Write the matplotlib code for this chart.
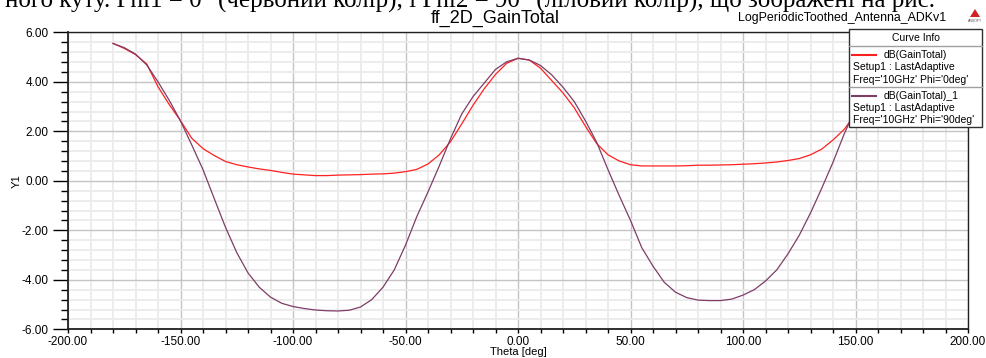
import matplotlib
matplotlib.use("Agg")
import matplotlib.pyplot as plt
from matplotlib.patches import Rectangle, Polygon
from matplotlib.lines import Line2D
from matplotlib.ticker import MultipleLocator, FormatStrFormatter

plt.rcParams['font.family'] = ['Liberation Sans', 'DejaVu Sans']

# angles and gain curves
theta = [-180, -175, -170, -165, -160, -155, -150, -145, -140, -135, -130, -125,
         -120, -115, -110, -105, -100, -95, -90, -85, -80, -75, -70, -65, -60,
         -55, -50, -45, -40, -35, -30, -25, -20, -15, -10, -5, 0, 5, 10, 15, 20,
         25, 30, 35, 40, 45, 50, 55, 60, 65, 70, 75, 80, 85, 90, 95, 100, 105,
         110, 115, 120, 125, 130, 135, 140, 145, 150, 155, 160, 165, 170, 175, 180]
gain_phi0 = [5.55, 5.35, 5.10, 4.72, 3.80, 3.08, 2.43, 1.72, 1.30, 1.02, 0.78, 0.65,
             0.56, 0.48, 0.42, 0.34, 0.27, 0.24, 0.21, 0.21, 0.23, 0.24, 0.25, 0.27, 0.28,
             0.31, 0.37, 0.46, 0.68, 1.05, 1.58, 2.30, 3.05, 3.72, 4.30, 4.75, 4.95, 4.88,
             4.55, 4.05, 3.55, 2.95, 2.20, 1.50, 1.05, 0.80, 0.65, 0.60, 0.60, 0.60, 0.60,
             0.61, 0.63, 0.63, 0.64, 0.65, 0.67, 0.69, 0.72, 0.76, 0.82, 0.90, 1.05, 1.28,
             1.65, 2.08, 2.70, 3.40, 4.05, 4.65, 5.10, 5.40, 5.55]
gain_phi90 = [5.55, 5.38, 5.12, 4.68, 4.00, 3.25, 2.42, 1.45, 0.45, -0.72, -1.88, -2.90,
              -3.72, -4.30, -4.70, -4.95, -5.08, -5.16, -5.22, -5.25, -5.26, -5.23, -5.10,
              -4.80, -4.30, -3.60, -2.60, -1.45, -0.45, 0.60, 1.70, 2.70, 3.40, 3.95, 4.50,
              4.81, 4.95, 4.88, 4.66, 4.28, 3.78, 3.20, 2.42, 1.55, 0.45, -0.60, -1.60,
              -2.70, -3.45, -4.10, -4.50, -4.72, -4.82, -4.84, -4.84, -4.78, -4.62, -4.40,
              -4.05, -3.60, -2.95, -2.20, -1.30, -0.30, 0.75, 1.90, 2.90, 3.70, 4.30, 4.80,
              5.15, 5.40, 5.55]

W, H = 986, 358
def fx(px):
    return px / W
def fy(py):
    return 1 - py / H

fig = plt.figure(figsize=(W / 100, H / 100), dpi=100)
ax = fig.add_axes([fx(68), fy(329.3), (968 - 68) / W, (329.3 - 32.3) / H])

red = '#ff2020'
purple = '#7d3d66'
ax.plot(theta, gain_phi0, color=red, lw=0.9, zorder=3)
ax.plot(theta, gain_phi90, color=purple, lw=0.9, zorder=3)

ax.set_xlim(-200, 200)
ax.set_ylim(-6, 6)
ax.xaxis.set_major_locator(MultipleLocator(50))
ax.xaxis.set_minor_locator(MultipleLocator(10))
ax.yaxis.set_major_locator(MultipleLocator(2))
ax.yaxis.set_minor_locator(MultipleLocator(0.4))
ax.xaxis.set_major_formatter(FormatStrFormatter('%.2f'))
ax.yaxis.set_major_formatter(FormatStrFormatter('%.2f'))

ax.grid(which='minor', color='#ebebeb', lw=1.3, zorder=0)
ax.grid(which='major', color='#c4c4c4', lw=1.0, zorder=0)
ax.set_axisbelow(True)

ax.tick_params(axis='y', which='major', direction='out', length=11, width=1,
               labelsize=8.5, pad=3)
ax.tick_params(axis='y', which='minor', direction='out', length=5, width=1)
ax.tick_params(axis='x', which='both', direction='out', length=3, width=1,
               labelsize=8.5, pad=2)
for s in ax.spines.values():
    s.set_color('#202020')
    s.set_linewidth(1.0)
ax.spines['left'].set_linewidth(1.3)
ax.spines['bottom'].set_linewidth(1.3)

fig.text(fx(518), fy(352), 'Theta [deg]', fontsize=8, ha='center', va='center')
fig.text(fx(16.5), fy(181), 'Y1', fontsize=8, rotation=90, ha='center', va='center')

# caption line cut off at the top of the picture
fig.text(fx(935), fy(7), 'ного куту. Phi1 = 0° (червоний колір), і Phi2 = 90° (ліловий колір), що зображені на рис.',
         family=['Liberation Serif', 'DejaVu Serif'], fontsize=18, ha='right', va='baseline')

fig.text(fx(495), fy(18), 'ff_2D_GainTotal', fontsize=13, ha='center', va='center')
fig.text(fx(842), fy(18), 'LogPeriodicToothed_Antenna_ADKv1', fontsize=8.9, ha='center', va='center')

# small Ansoft logo
fig.patches.append(Polygon([(fx(970), fy(17)), (fx(980), fy(17)), (fx(975), fy(9))],
                           closed=True, transform=fig.transFigure, facecolor='#d42020',
                           edgecolor='none', figure=fig))
fig.text(fx(975), fy(20.5), 'ANSOFT', fontsize=2.5, ha='center', va='center', color='#555555')

# curve info box
box_l, box_r, box_t, box_b = 849, 982, 29, 127
fig.patches.append(Rectangle((fx(box_l), fy(box_b)), (box_r - box_l) / W, (box_b - box_t) / H,
                             transform=fig.transFigure, facecolor='white', edgecolor='#303030',
                             lw=1.0, zorder=5, figure=fig))
for yy in (46, 87):
    fig.lines.append(Line2D([fx(box_l), fx(box_r)], [fy(yy), fy(yy)], transform=fig.transFigure,
                            color='#a0a0a0', lw=1.0, zorder=6, figure=fig))
fig.text(fx(915.5), fy(38), 'Curve Info', fontsize=7.5, ha='center', va='center', zorder=7)

entries = [(red, 'dB(GainTotal)', "Freq='10GHz' Phi='0deg'", 55),
           (purple, 'dB(GainTotal)_1', "Freq='10GHz' Phi='90deg'", 95.7)]
for col, name, freq, yl in entries:
    fig.lines.append(Line2D([fx(852), fx(876)], [fy(yl), fy(yl)], transform=fig.transFigure,
                            color=col, lw=1.5, zorder=7, figure=fig))
    fig.text(fx(884), fy(yl), name, fontsize=7.5, ha='left', va='center', zorder=7)
    fig.text(fx(853), fy(yl + 12.3), 'Setup1 : LastAdaptive', fontsize=7.5, ha='left', va='center', zorder=7)
    fig.text(fx(853), fy(yl + 24.6), freq, fontsize=7.5, ha='left', va='center', zorder=7)

fig.savefig('out.png', dpi=100)
